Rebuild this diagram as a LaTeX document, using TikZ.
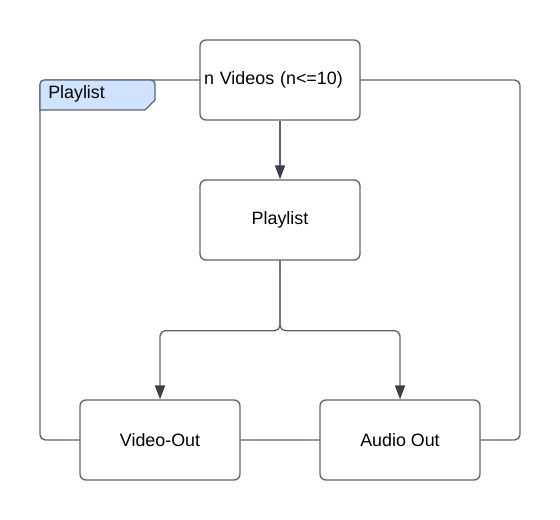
\documentclass[tikz,border=0pt]{standalone}
\usepackage{fontspec}
\setmainfont{Liberation Sans}
\usetikzlibrary{arrows.meta}
\definecolor{linec}{HTML}{5E6370}
\definecolor{tipc}{HTML}{3A3F4A}
\definecolor{tabfill}{HTML}{CFE2FF}
\begin{document}
\begin{tikzpicture}[x=0.75pt,y=-0.75pt,
  box/.style={draw=linec,line width=1pt,fill=white,rounded corners=4.5pt,minimum width=120pt,minimum height=60pt,font=\fontsize{13.4}{15}\selectfont,inner sep=0pt},
  conn/.style={draw=linec,line width=1pt,rounded corners=4pt},
  arr/.style={conn,-{Triangle[length=10.5pt,width=7.5pt,fill=tipc,color=tipc]}}]
\useasboundingbox (0,0) rectangle (560,520);
% frame
\draw[conn] (40,80) rectangle (520,440);
\path[draw=linec,line width=1pt,fill=tabfill,rounded corners=3pt] (40,110) -- (40,80) -- (155,80) [sharp corners]-- (155,100) -- (145,110) -- cycle;
\node[anchor=west,font=\fontsize{13.4}{15}\selectfont,inner sep=0pt] (tab) at (48,94) {Playlist};
% boxes
\node[box,text width=152*0.75pt,align=left,inner xsep=3pt] (vid) at (280,80) {n Videos (n<=10)};
\node[box] (pl) at (280,220) {Playlist};
\node[box] (vo) at (160,440) {Video-Out};
\node[box] (ao) at (400,440) {Audio Out};
% connectors
\draw[arr] (vid) -- (pl);
\draw[arr] (pl.south) -- ++(0,70) -| (vo.north);
\draw[arr] (pl.south) -- ++(0,70) -| (ao.north);
\end{tikzpicture}
\end{document}
